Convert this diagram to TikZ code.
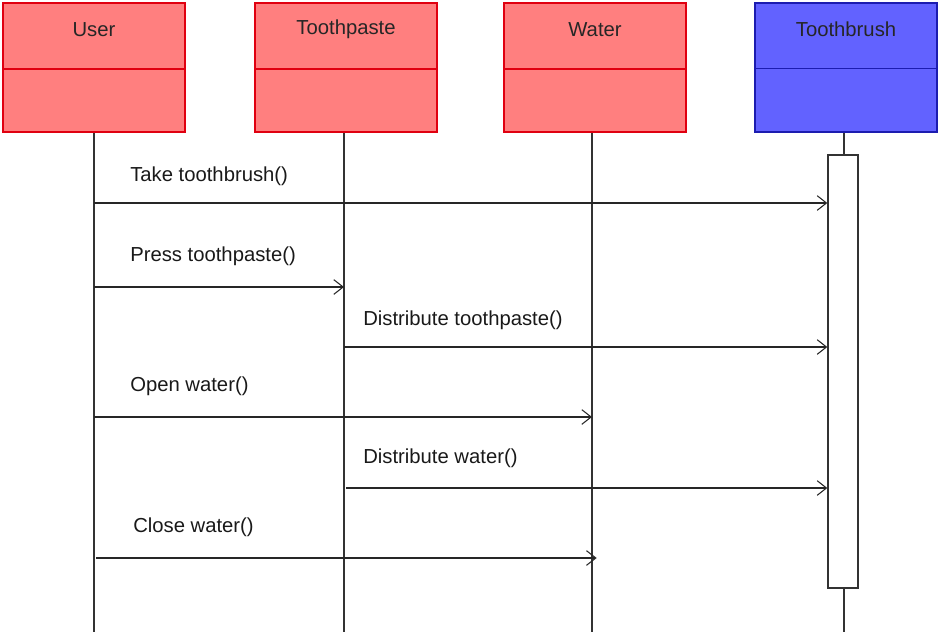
\documentclass[tikz,border=0pt]{standalone}
\usepackage{fontspec}
\setmainfont{Liberation Sans}
\usetikzlibrary{arrows.meta}
\definecolor{objred}{HTML}{FF7F7F}
\definecolor{objredline}{HTML}{E00010}
\definecolor{objblue}{HTML}{6262FF}
\definecolor{objblueline}{HTML}{1C1CB0}
\tikzset{
  obj/.style={draw, line width=1.5pt, minimum width=136.5pt, minimum height=96.75pt, inner sep=0pt},
  objname/.style={text=black!85},
  life/.style={black!80, line width=0.8pt},
  msg/.style={->, black!85, line width=0.8pt},
  msglbl/.style={anchor=west, inner sep=0pt, text=black!90}
}
\begin{document}
\begin{tikzpicture}[x=0.75pt, y=-0.75pt, >={Straight Barb[length=7pt,width=11pt]}, font=\fontsize{15.2}{18}\selectfont]
  \useasboundingbox (0,0) rectangle (938,632);
  % objects
  \node[obj, fill=objred, draw=objredline] (user) at (94,67.5) {};
  \node[obj, fill=objred, draw=objredline] (paste) at (346,67.5) {};
  \node[obj, fill=objred, draw=objredline] (water) at (595,67.5) {};
  \node[obj, fill=objblue, draw=objblueline] (brush) at (846,67) {};
  \foreach \o/\t/\c in {user/User/objredline, paste/Toothpaste/objredline, water/Water/objredline, brush/Toothbrush/objblueline} {
    \coordinate (\o-l) at ([yshift=-1.1pt]\o.west);
    \coordinate (\o-r) at ([yshift=-1.1pt]\o.east);
    \draw[\c, line width=1pt] (\o-l) -- (\o-r);
    \node[objname] (\o-name) at ([yshift=-20.5pt]\o.north) {\t};
  }
  % lifelines
  \coordinate (user-end) at (94,632);
  \coordinate (paste-end) at (344,632);
  \coordinate (water-end) at (592,632);
  \coordinate (brush-end) at (844,632);
  \draw[life] (user.south -| user-end) -- (user-end);
  \draw[life] (paste.south -| paste-end) -- (paste-end);
  \draw[life] (water.south -| water-end) -- (water-end);
  \draw[life] (brush.south -| brush-end) -- (brush-end);
  \node[draw=black!80, fill=white, line width=1pt, minimum width=22.5pt, minimum height=324.75pt, inner sep=0pt] (act) at (843,371.5) {};
  % messages
  \coordinate (m1) at (0,203);
  \coordinate (m2) at (0,287);
  \coordinate (m3) at (0,347);
  \coordinate (m4) at (0,417);
  \coordinate (m5) at (0,488);
  \coordinate (m6) at (0,558);
  \draw[msg] (user-end |- m1) -- (act.west |- m1);
  \node[msglbl] (m1-lbl) at (130,176) {Take toothbrush()};
  \draw[msg] (user-end |- m2) -- (paste-end |- m2);
  \node[msglbl] (m2-lbl) at (130,256) {Press toothpaste()};
  \draw[msg] (paste-end |- m3) -- (act.west |- m3);
  \node[msglbl] (m3-lbl) at (363,320) {Distribute toothpaste()};
  \draw[msg] (user-end |- m4) -- (water-end |- m4);
  \node[msglbl] (m4-lbl) at (130,386) {Open water()};
  \draw[msg] ([xshift=1.5pt]paste-end |- m5) -- (act.west |- m5);
  \node[msglbl] (m5-lbl) at (363,458) {Distribute water()};
  \draw[msg] ([xshift=1.5pt]user-end |- m6) -- ([xshift=3.5pt]water-end |- m6);
  \node[msglbl] (m6-lbl) at (133,527) {Close water()};
\end{tikzpicture}
\end{document}
